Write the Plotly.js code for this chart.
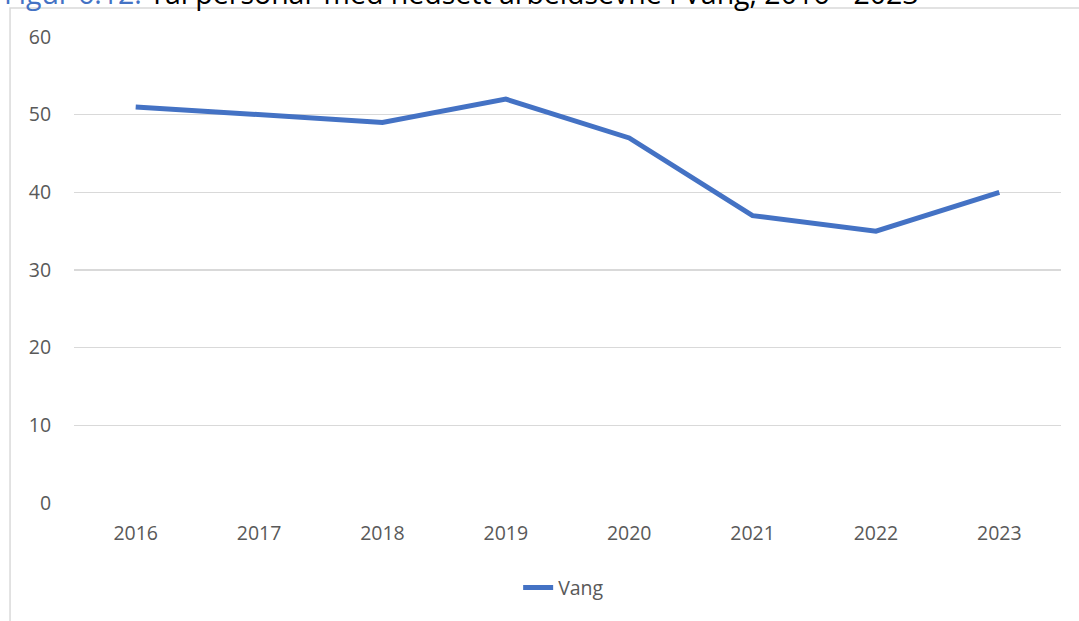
<!DOCTYPE html>
<html><head><meta charset="utf-8">
<script src="https://cdn.plot.ly/plotly-3.0.1.min.js"></script>
<style>html,body{margin:0;padding:0;background:#fff}#chart{width:1079px;height:621px}</style>
</head><body><div id="chart"></div>
<script>
const years = ['2016','2017','2018','2019','2020','2021','2022','2023'];
const vang = [51, 50, 49, 52, 47, 37, 35, 40];
const seriesName = 'Vang';
const titleBlue = 'Figur 6.12:';
const titleBlack = ' Tal personar med nedsett arbeidsevne i Vang, 2016 - 2023';

const font = {family: 'Open Sans, Noto Sans, sans-serif', size: 19.5, color: '#595959'};
Plotly.newPlot('chart', [{
  x: years, y: vang, type: 'scatter', mode: 'lines', name: seriesName,
  line: {color: '#4472C4', width: 5}
}], {
  width: 1079, height: 621,
  margin: {l: 74, r: 18, t: 37, b: 118},
  paper_bgcolor: '#fff', plot_bgcolor: '#fff',
  font: font,
  xaxis: {type: 'category', range: [-0.5, 7.5], showgrid: false, zeroline: false,
          showline: false, ticks: 'outside', ticklen: 13, tickcolor: 'rgba(0,0,0,0)',
          tickfont: font, fixedrange: true},
  yaxis: {range: [0, 60], dtick: 10, showgrid: true, gridcolor: '#d9d9d9', gridwidth: 1.3,
          zeroline: false, showline: false, ticks: 'outside', ticklen: 18, tickcolor: 'rgba(0,0,0,0)',
          tickfont: font},
  showlegend: true,
  legend: {orientation: 'h', x: 0.45, xanchor: 'left', y: -0.14, yanchor: 'top',
           font: font},
  shapes: [{type: 'rect', xref: 'paper', yref: 'paper', x0: -0.0648, x1: 1.1, y0: -0.4, y1: 1.062,
            line: {color: '#d9d9d9', width: 1.5}, fillcolor: 'rgba(0,0,0,0)', layer: 'below'}],
  annotations: [{xref: 'paper', yref: 'paper', x: -0.073, xanchor: 'left', y: 1.0495, yanchor: 'bottom',
    showarrow: false, font: {family: 'Open Sans, sans-serif', size: 28.5, color: '#000'},
    text: '<span style="color:#4472C4">' + titleBlue + '</span>' + titleBlack}]
}, {displayModeBar: false, staticPlot: true});
</script></body></html>
